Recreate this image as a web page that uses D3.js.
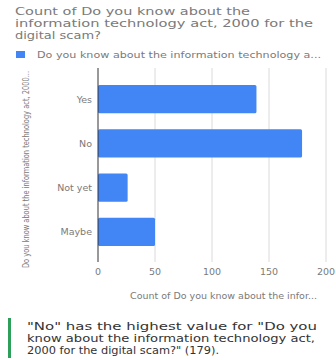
<!DOCTYPE html>
<html>
<head>
<meta charset="utf-8">
<script src="https://d3js.org/d3.v7.min.js"></script>
<style>
  body { margin: 0; background: #fff; }
  text { font-family: "DejaVu Sans", "Open Sans", sans-serif; }
</style>
</head>
<body>
<script>
const width = 336;
const height = 360;

const categories = ['Yes', 'No', 'Not yet', 'Maybe'];
const counts = [139, 179, 26, 50];
const xTicks = [0, 50, 100, 150, 200];
const titleLines = ['Count of Do you know about the', 'information technology act, 2000 for the', 'digital scam?'];
const legendLabel = 'Do you know about the information technology a...';
const yTitle = 'Do you know about the information technology act, 2000...';
const xTitle = 'Count of Do you know about the infor...';
const noteLines = ['"No" has the highest value for "Do you', 'know about the information technology act,', '2000 for the digital scam?" (179).'];

// measured widths of the wrapped text lines in the screenshot
const titleWidths = [235, 298, 86];
const noteWidths = [290, 288, 192];

const svg = d3.select('body').append('svg')
    .attr('width', width)
    .attr('height', height);

// title
svg.append('g').selectAll('text')
    .data(titleLines)
    .enter().append('text')
        .attr('x', 15)
        .attr('y', (d, i) => 15 + i * 12)
        .attr('textLength', (d, i) => titleWidths[i])
        .attr('lengthAdjust', 'spacingAndGlyphs')
        .attr('fill', '#7a7a7a')
        .style('font-size', '11px')
        .text(d => d);

// legend
svg.append('rect')
    .attr('x', 16).attr('y', 51)
    .attr('width', 9).attr('height', 7)
    .attr('fill', '#4285f4');
svg.append('text')
    .attr('x', 37).attr('y', 58)
    .attr('textLength', 284)
    .attr('lengthAdjust', 'spacingAndGlyphs')
    .attr('fill', '#7a7a7a')
    .style('font-size', '9px')
    .text(legendLabel);

const x = d3.scaleLinear().domain([0, 200]).range([98, 326]);
const y = d3.scaleBand().domain(categories).range([77, 254]).paddingInner(0.36).paddingOuter(0.18);

// grid
svg.append('g').selectAll('line')
    .data(xTicks.slice(1))
    .enter().append('line')
        .attr('x1', d => x(d)).attr('x2', d => x(d))
        .attr('y1', 68).attr('y2', 262)
        .attr('stroke', '#dadada');

// bars
svg.append('g').selectAll('rect')
    .data(counts)
    .enter().append('rect')
        .attr('x', x(0))
        .attr('y', (d, i) => y(categories[i]))
        .attr('width', d => x(d) - x(0))
        .attr('height', y.bandwidth())
        .attr('rx', 1.5)
        .attr('fill', '#4285f4');

// axis line
svg.append('line')
    .attr('x1', x(0)).attr('x2', x(0))
    .attr('y1', 68).attr('y2', 262)
    .attr('stroke', '#333');

// category labels
svg.append('g').selectAll('text')
    .data(categories)
    .enter().append('text')
        .attr('x', 92)
        .attr('y', d => y(d) + y.bandwidth() / 2 + 3.5)
        .attr('text-anchor', 'end')
        .attr('fill', '#7a7a7a')
        .style('font-size', '9.5px')
        .text(d => d);

// x tick labels
svg.append('g').selectAll('text')
    .data(xTicks)
    .enter().append('text')
        .attr('x', d => x(d))
        .attr('y', 275)
        .attr('text-anchor', 'middle')
        .attr('fill', '#7a7a7a')
        .style('font-size', '9.5px')
        .text(d => d);

// axis titles
svg.append('text')
    .attr('x', 130).attr('y', 299)
    .attr('textLength', 187)
    .attr('lengthAdjust', 'spacingAndGlyphs')
    .attr('fill', '#7a7a7a')
    .style('font-size', '9.5px')
    .text(xTitle);

svg.append('text')
    .attr('transform', 'translate(29,268) rotate(-90)')
    .attr('textLength', 197)
    .attr('lengthAdjust', 'spacingAndGlyphs')
    .attr('fill', '#7a7a7a')
    .style('font-size', '9px')
    .text(yTitle);

// note
svg.append('rect')
    .attr('x', 8).attr('y', 318)
    .attr('width', 3).attr('height', 40)
    .attr('fill', '#2e9e5b');
svg.append('g').selectAll('text')
    .data(noteLines)
    .enter().append('text')
        .attr('x', 27)
        .attr('y', (d, i) => 330 + i * 12)
        .attr('textLength', (d, i) => noteWidths[i])
        .attr('lengthAdjust', 'spacingAndGlyphs')
        .attr('fill', '#333')
        .style('font-size', '11px')
        .text(d => d);
</script>
</body>
</html>
